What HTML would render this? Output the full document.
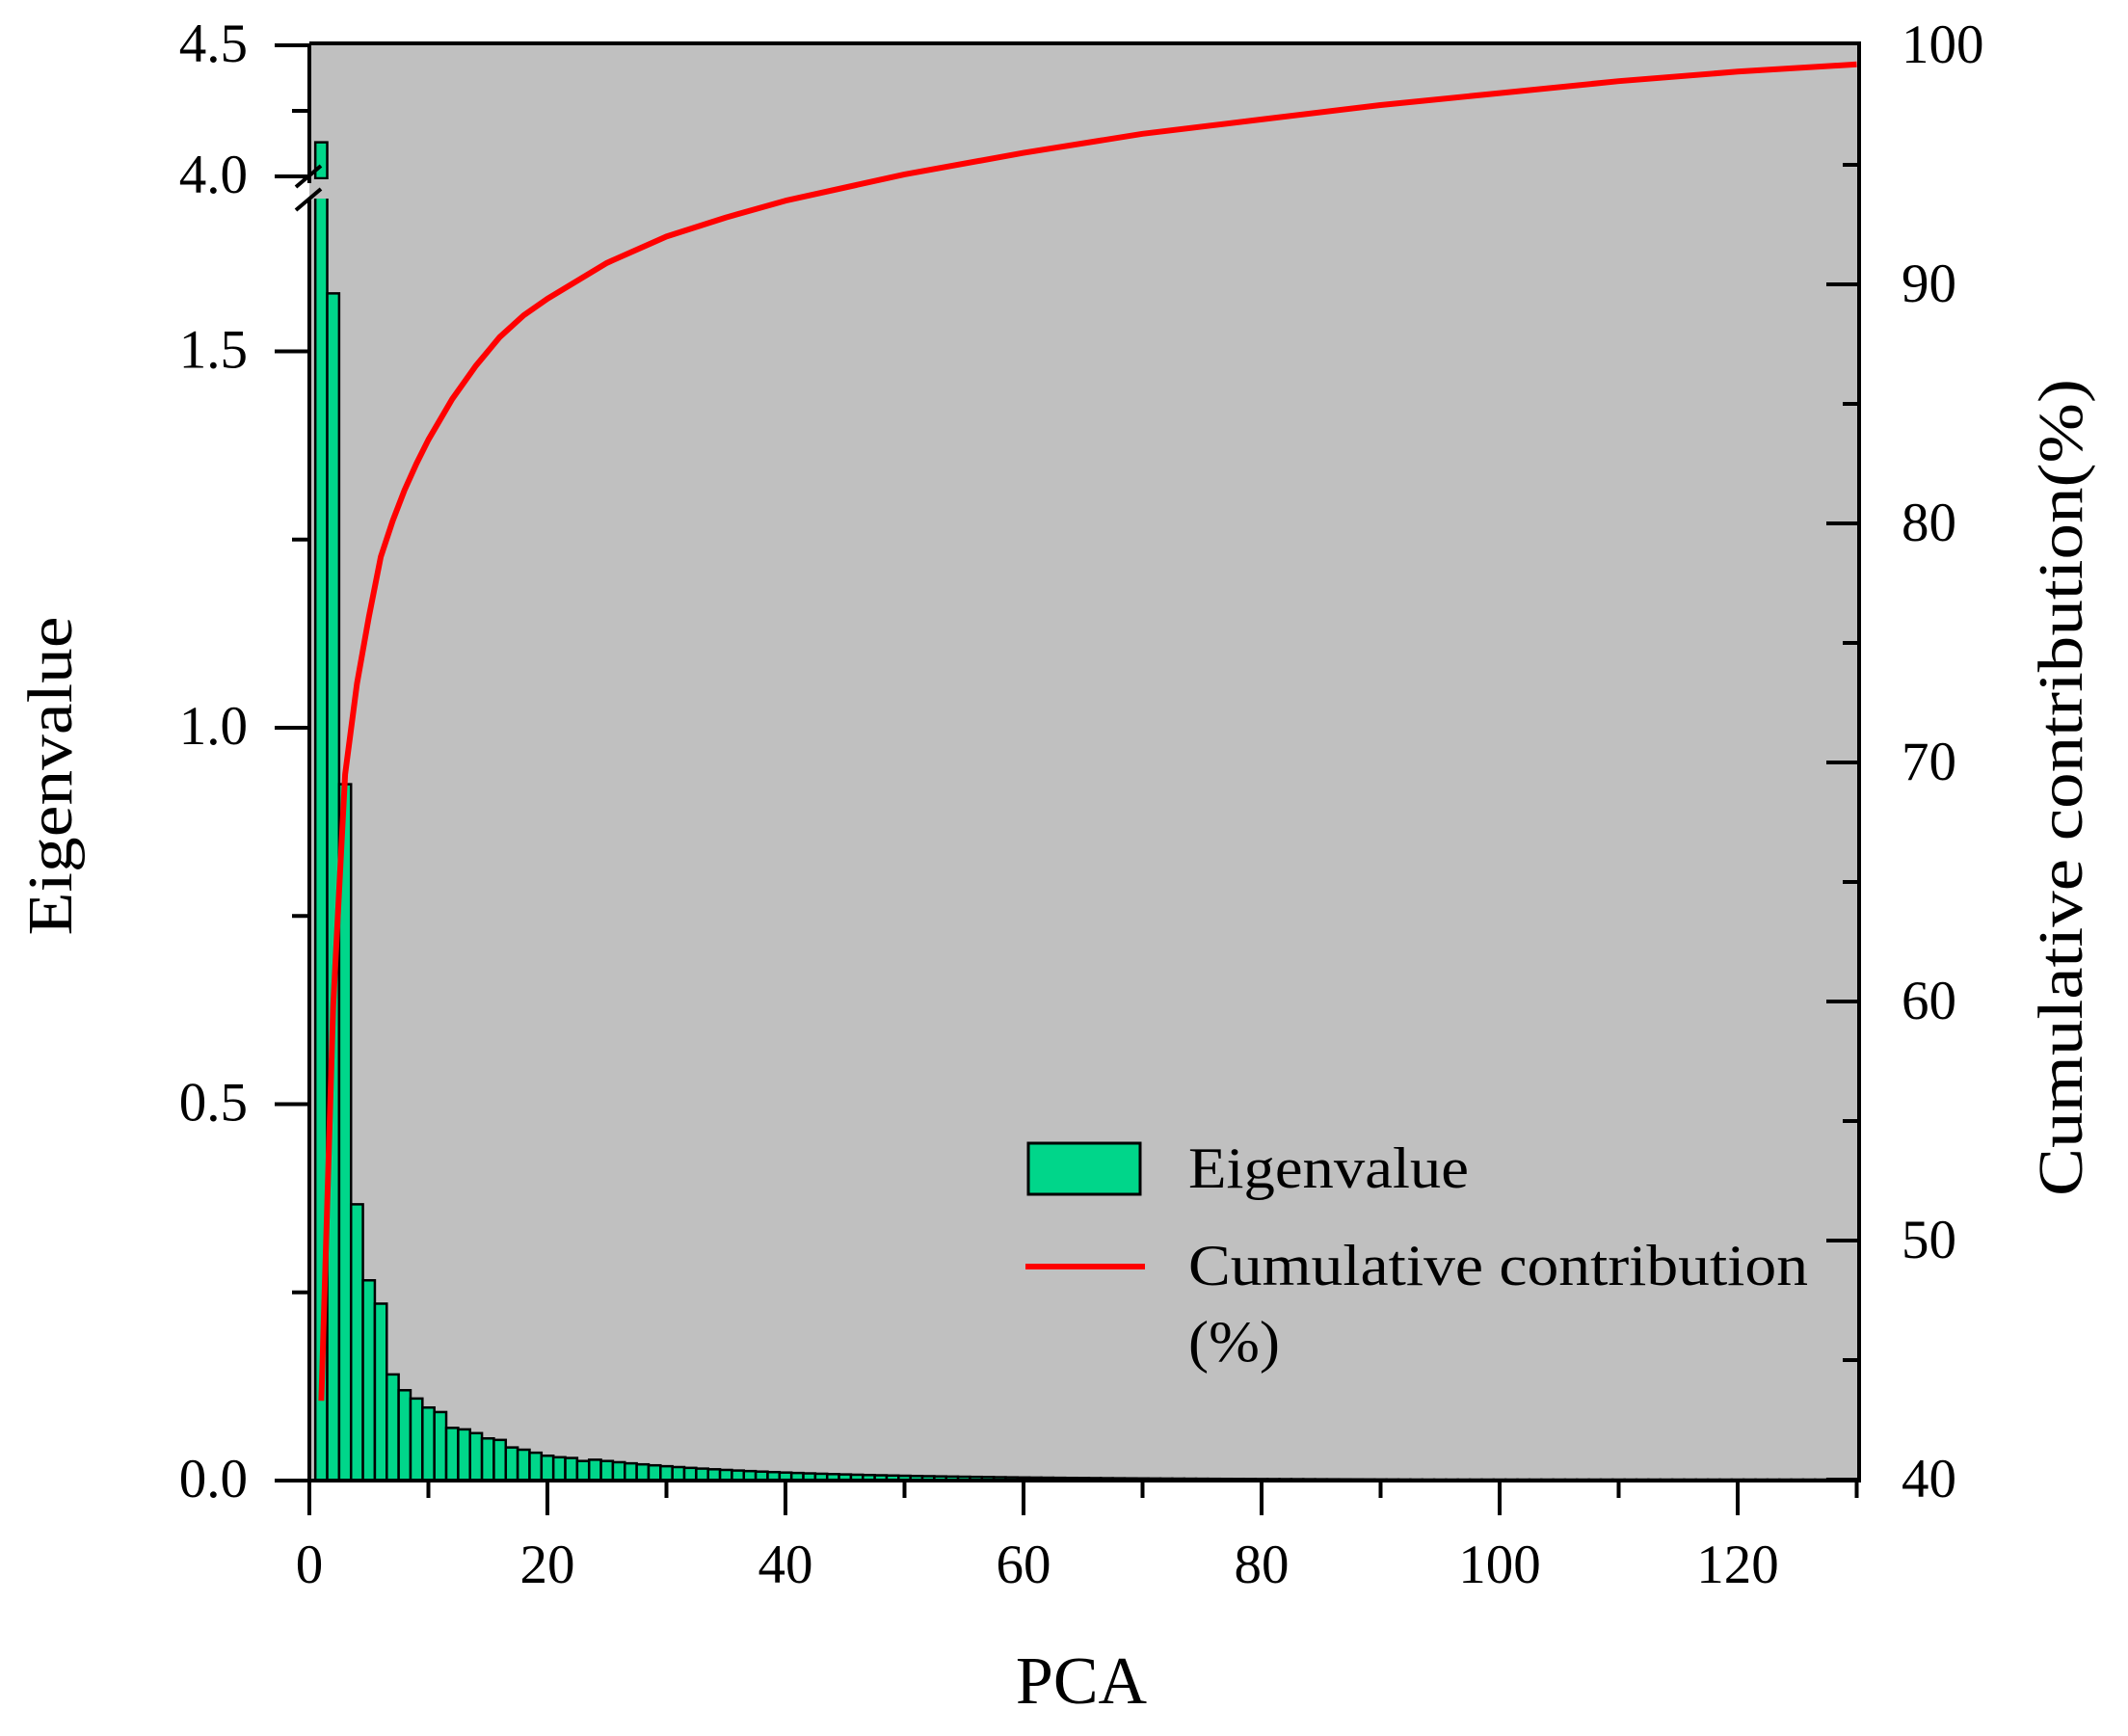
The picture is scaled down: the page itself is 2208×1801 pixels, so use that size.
<!DOCTYPE html>
<html><head><meta charset="utf-8"><style>html,body{margin:0;padding:0;background:#fff}svg{display:block}</style></head>
<body>
<svg id="s" width="2208" height="1801" viewBox="0 0 2208 1801" xmlns="http://www.w3.org/2000/svg" font-family="Liberation Serif, serif">
<rect x="321" y="47" width="1608" height="1489" fill="#c0c0c0"/>
<g id="bars" fill="#00d68a" stroke="#000" stroke-width="2.5"></g>
<polyline id="cum" fill="none" stroke="#ff0000" stroke-width="6" stroke-linejoin="round"/>
<!-- break gap -->
<rect x="322" y="186" width="28" height="20" fill="#c0c0c0"/>
<rect x="296" y="186" width="25" height="20" fill="#fff"/>
<g stroke="#000" stroke-width="4" fill="none">
<line x1="321" y1="45" x2="1931" y2="45"/>
<line x1="321" y1="45" x2="321" y2="190"/>
<line x1="321" y1="206" x2="321" y2="1538"/>
<line x1="1929" y1="45" x2="1929" y2="1538"/>
<line x1="285" y1="1536" x2="1931" y2="1536"/>
<line x1="307" y1="194" x2="333" y2="172"/>
<line x1="307" y1="218" x2="333" y2="196"/>
</g>
<g id="ticks" stroke="#000" stroke-width="4"></g>
<g id="lab" font-size="57" fill="#000"></g>
<rect x="1067" y="1186" width="116" height="53" fill="#00d68a" stroke="#000" stroke-width="3"/>
<line x1="1064" y1="1314" x2="1188" y2="1314" stroke="#ff0000" stroke-width="6"/>
<text x="1233" y="1232" font-size="60" textLength="291" lengthAdjust="spacingAndGlyphs">Eigenvalue</text>
<text x="1233" y="1333" font-size="60" textLength="643" lengthAdjust="spacingAndGlyphs">Cumulative contribution</text>
<text x="1233" y="1412" font-size="60" textLength="95" lengthAdjust="spacingAndGlyphs">(%)</text>
<text x="1122" y="1767" font-size="70" text-anchor="middle">PCA</text>
<text transform="translate(74,805) rotate(-90)" font-size="66" text-anchor="middle" textLength="331" lengthAdjust="spacingAndGlyphs">Eigenvalue</text>
<text transform="translate(2160,817) rotate(-90)" font-size="66" text-anchor="middle" textLength="848" lengthAdjust="spacingAndGlyphs">Cumulative contribution(%)</text>
</svg>
<script>
var NS="http://www.w3.org/2000/svg";
function el(p,t,a,txt){var e=document.createElementNS(NS,t);for(var k in a)e.setAttribute(k,a[k]);if(txt!==undefined)e.textContent=txt;document.getElementById(p).appendChild(e);return e;}
var X=function(v){return 321+v*12.35;};
var YL=function(v){return 1536-v*781;};
var YU=function(v){return 183-(v-4)*272;};
var YR=function(p){return 1535-(p-40)*24.8;};
var ev=[4.13,1.577,0.925,0.367,0.266,0.235,0.141,0.120,0.109,0.097,0.091,0.070,0.068,0.063,0.056,0.054,0.044,0.041,0.037,0.033,0.031,0.030,0.026];
for(var n=24;n<=128;n++){ev.push(0.026*Math.exp(-(n-23)/14)+0.0035*Math.max(0,(128-n)/105));}
for(var i=0;i<ev.length;i++){var n=i+1,v=ev[i];var x0=X(n-0.5),w=12.35;
 if(n==1){el('bars','rect',{x:x0,y:YL(1.72),width:w,height:1536-YL(1.72)});el('bars','rect',{x:x0,y:YU(v),width:w,height:YU(4.0)-YU(v)+2});}
 else{var h=Math.max(v*781,1);el('bars','rect',{x:x0,y:1536-h,width:w,height:h});}}
var cp=[[1,43.3],[2,59.8],[3,69.5],[4,73.3],[5,76.1],[6,78.6],[7,80.1],[8,81.4],[9,82.5],[10,83.5],[12,85.2],[14,86.6],[16,87.8],[18,88.7],[20,89.4],[25,90.9],[30,92.0],[35,92.8],[40,93.5],[50,94.6],[60,95.5],[70,96.3],[80,96.9],[90,97.5],[100,98.0],[110,98.5],[120,98.9],[130,99.2]];
document.getElementById('cum').setAttribute('points',cp.map(function(p){return X(p[0]).toFixed(1)+','+YR(p[1]).toFixed(1);}).join(' '));
[[0,1],[0.25,0],[0.5,1],[0.75,0],[1,1],[1.25,0],[1.5,1]].forEach(function(t){var y=YL(t[0]);el('ticks','line',{x1:t[1]?285:303,y1:y,x2:321,y2:y});if(t[1])el('lab','text',{x:257,y:y+17,'text-anchor':'end'},t[0].toFixed(1));});
[[4,1],[4.25,0],[4.5,1]].forEach(function(t){var y=YU(t[0]);el('ticks','line',{x1:t[1]?285:303,y1:y,x2:321,y2:y});if(t[1])el('lab','text',{x:257,y:y+17,'text-anchor':'end'},t[0].toFixed(1));});
for(var v=0;v<=130;v+=10){var x=X(v);var maj=v%20==0;el('ticks','line',{x1:x,y1:1536,x2:x,y2:maj?1572:1554});if(maj)el('lab','text',{x:x,y:1642,'text-anchor':'middle'},v);}
for(var p=40;p<=100;p+=5){var y=YR(p);var maj=p%10==0;if(p<100)el('ticks','line',{x1:maj?1895:1912,y1:y,x2:1929,y2:y});if(maj)el('lab','text',{x:1973,y:y+18},p);}
</script>
</body></html>
